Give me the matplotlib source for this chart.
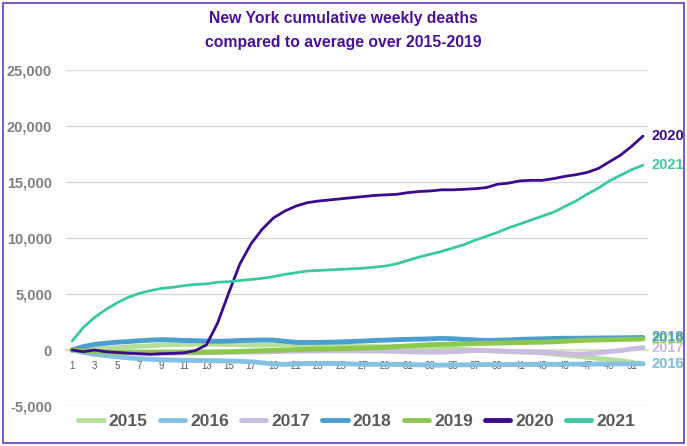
import numpy as np
import matplotlib.pyplot as plt
from matplotlib.patches import Rectangle

plt.rcParams['font.family'] = ['Liberation Sans', 'DejaVu Sans']

weeks = np.arange(1, 53)
years = ['2015', '2016', '2017', '2018', '2019', '2020', '2021']

# Cumulative weekly deaths above/below the 2015-2019 average
d2015 = [0, 50, 100, 150, 210, 280, 330, 380, 450, 480, 500, 520, 520, 510,
         490, 470, 450, 440, 450, 460, 450, 420, 390, 360, 330, 310, 300, 300,
         300, 310, 300, 250, 200, 150, 100, 50, 0, -50, -100, -150, -180, -200,
         -250, -350, -450, -550, -650, -750, -850, -950, -1100, -1250]
d2016 = [0, -200, -400, -500, -600, -700, -780, -830, -870, -900, -930, -930,
         -950, -970, -980, -1000, -1050, -1150, -1250, -1280, -1250, -1200,
         -1220, -1200, -1220, -1250, -1270, -1280, -1290, -1290, -1300, -1320,
         -1340, -1350, -1340, -1330, -1320, -1300, -1300, -1300, -1300, -1290,
         -1280, -1280, -1270, -1260, -1260, -1250, -1250, -1240, -1240, -1230]
d2017 = [0, -50, -100, -150, -200, -250, -280, -300, -300, -280, -260, -250,
         -230, -220, -200, -190, -180, -170, -150, -120, -100, -90, -90, -80,
         -80, -80, -90, -90, -100, -120, -150, -180, -200, -190, -150, -100,
         -50, -50, -80, -120, -150, -180, -210, -260, -320, -380, -350, -250,
         -150, -50, 100, 220]
d2018 = [0, 300, 500, 600, 700, 750, 830, 880, 920, 900, 850, 830, 800, 780,
         800, 850, 870, 890, 880, 780, 680, 670, 680, 700, 720, 760, 800, 850,
         880, 920, 950, 970, 1000, 1040, 1000, 950, 900, 850, 870, 900, 950,
         980, 1000, 1030, 1050, 1050, 1060, 1070, 1080, 1090, 1100, 1120]
d2019 = [0, -80, -120, -170, -210, -220, -220, -220, -210, -210, -210, -210,
         -200, -180, -150, -120, -90, -60, -30, 0, 30, 60, 80, 90, 120, 150,
         180, 200, 220, 300, 360, 420, 480, 510, 520, 550, 580, 600, 620, 640,
         660, 680, 700, 730, 780, 830, 870, 900, 920, 940, 960, 980]
d2020 = [0, -150, 0, -150, -220, -280, -330, -380, -330, -300, -250, -60, 450,
         2400, 5100, 7700, 9500, 10800, 11800, 12400, 12850, 13150, 13300,
         13400, 13500, 13600, 13700, 13800, 13850, 13900, 14050, 14150, 14200,
         14300, 14300, 14350, 14400, 14500, 14800, 14900, 15100, 15150, 15150,
         15300, 15500, 15650, 15850, 16200, 16800, 17400, 18200, 19100]
d2021 = [800, 2000, 2900, 3600, 4200, 4700, 5050, 5300, 5500, 5600, 5750,
         5850, 5900, 6050, 6100, 6200, 6300, 6400, 6550, 6750, 6900, 7050,
         7100, 7150, 7200, 7250, 7300, 7400, 7500, 7700, 8000, 8300, 8550,
         8800, 9100, 9400, 9800, 10150, 10500, 10900, 11250, 11600, 11950,
         12300, 12800, 13300, 13900, 14450, 15100, 15600, 16100, 16500]

series = [d2015, d2016, d2017, d2018, d2019, d2020, d2021]
colors = ['#b4df98', '#85c1e2', '#cbbbe0', '#4a9fd0', '#8cc850', '#3d0a8f',
          '#3cc8a2']
widths = [3.5, 3.5, 3.5, 3.5, 3.5, 2, 2]
# stacking of the end labels where they collide (2016 over 2015, 2018 over 2019)
label_z = [4, 5, 4, 5, 4, 4, 4]

fig = plt.figure(figsize=(6.87, 4.46), dpi=100)
ax = fig.add_axes([66/687, 1 - 406/446, (648 - 66)/687, 336/446])

lines = []
for name, vals, c, lw, z in zip(years, series, colors, widths, label_z):
    l, = ax.plot(weeks, vals, color=c, lw=lw, label=name,
                 solid_capstyle='round', zorder=3)
    lines.append(l)
    # end-of-line year label
    ax.annotate(name, (weeks[-1], vals[-1]), xytext=(6, 0),
                textcoords='offset points', ha='left', va='center',
                color=c, fontsize=10.5, fontweight='bold',
                annotation_clip=False, zorder=z)

ax.set_xlim(0.46, 52.45)
ax.set_ylim(-5000, 25000)
ax.set_yticks(np.arange(-5000, 25001, 5000))
ax.set_yticklabels(['{:,}'.format(v) for v in range(-5000, 25001, 5000)])
ax.grid(axis='y', color='#d9d9d9', lw=1, zorder=0)
ax.set_xticks(weeks[::2])
ax.tick_params(axis='x', length=0, labelsize=7, colors='#595959', pad=8)
ax.tick_params(axis='y', length=0, labelsize=10.5, labelcolor='#808080',
               pad=10)
for lab in ax.get_yticklabels():
    lab.set_fontweight('bold')

for side in ['top', 'right', 'left']:
    ax.spines[side].set_visible(False)
ax.spines['bottom'].set_position(('data', 0))
ax.spines['bottom'].set_color('#d4e6c6')
ax.spines['bottom'].set_linewidth(1.5)

fig.text(0.5, 1 - 30/446, 'New York cumulative weekly deaths\n'
         'compared to average over 2015-2019', ha='center', va='center',
         color='#4b0f9a', fontsize=11.3, fontweight='bold', linespacing=1.75)

leg = ax.legend(handles=lines, loc='center', bbox_to_anchor=(0.5, -0.045),
                ncol=7, frameon=False, handlelength=1.45, handletextpad=0.3,
                columnspacing=0.7, prop={'size': 12.5, 'weight': 'bold'})
for t in leg.get_texts():
    t.set_color('#595959')
for h in leg.legend_handles:
    h.set_linewidth(3.5)

fig.patches.append(Rectangle((3/687, 3/446), 681/687, 440/446,
                             transform=fig.transFigure, fill=False,
                             edgecolor='#7b5fc4', lw=1.5))

fig.savefig('out.png', dpi=100)
